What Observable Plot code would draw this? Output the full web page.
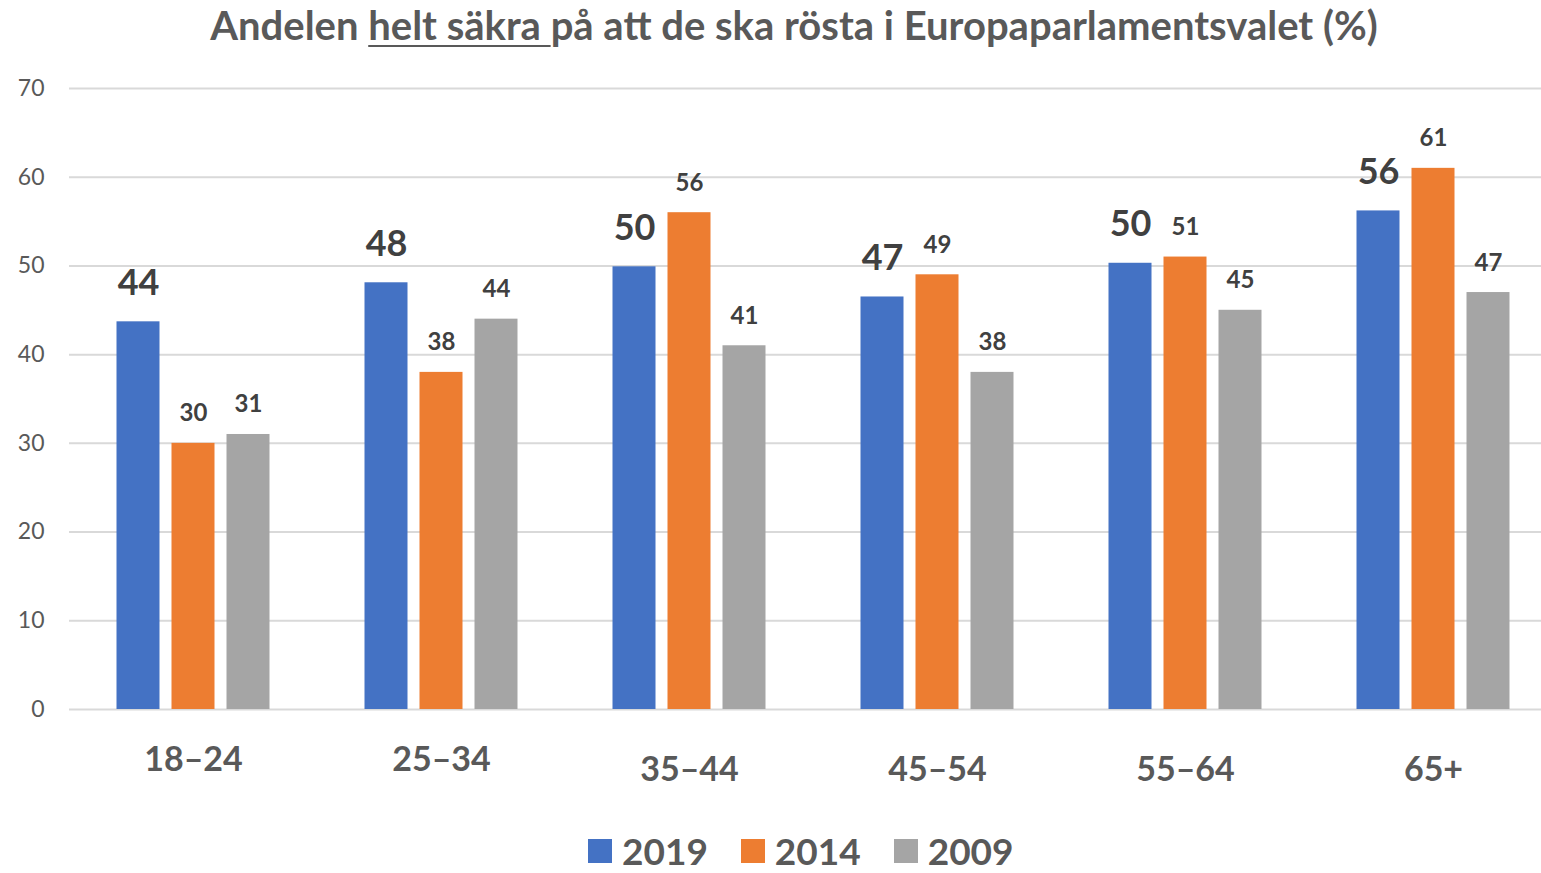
<!DOCTYPE html>
<html>
<head>
<meta charset="utf-8">
<script src="https://cdn.jsdelivr.net/npm/d3@7"></script>
<script src="https://cdn.jsdelivr.net/npm/@observablehq/plot@0.6"></script>
<style>
  html, body { margin: 0; padding: 0; background: #fff; width: 1541px; height: 873px; overflow: hidden; position: relative; font-family: Lato, "Open Sans", sans-serif; }
  #title { position: absolute; top: 0px; left: 794px; transform: translateX(-50%); white-space: nowrap; font-size: 40px; line-height: 50px; font-weight: 700; color: #595959; }
  #title u { text-decoration-thickness: 2px; text-underline-offset: 5px; }
  #chart { position: absolute; top: 55px; left: 0; }
  #chart svg { max-width: none !important; }
  #legend { position: absolute; top: 828px; left: 588px; display: flex; align-items: center; gap: 33px; }
  .item { display: flex; align-items: center; gap: 10px; font-size: 37px; font-weight: 700; color: #595959; }
  .sw { width: 24px; height: 24px; display: inline-block; }
</style>
</head>
<body>
<div id="title"></div>
<div id="chart"></div>
<div id="legend"></div>
<script>
const titleParts = ["Andelen ", "helt säkra ", "på att de ska rösta i Europaparlamentsvalet (%)"];
const groups = ["18–24", "25–34", "35–44", "45–54", "55–64", "65+"];
const series = ["2019", "2014", "2009"];
const values2019 = [43.7, 48.1, 49.9, 46.5, 50.3, 56.2];
const values2014 = [30, 38, 56, 49, 51, 61];
const values2009 = [31, 44, 41, 38, 45, 47];
const colors = ["#4472C4", "#ED7D31", "#A5A5A5"];
const yTicks = [0, 10, 20, 30, 40, 50, 60, 70];

const seriesValues = {"2019": values2019, "2014": values2014, "2009": values2009};
const rows = [];
groups.forEach((g, i) => series.forEach(s => rows.push({group: g, series: s, value: seriesValues[s][i]})));

// Title
const t = document.getElementById("title");
t.append(titleParts[0]);
const u = document.createElement("u"); u.textContent = titleParts[1]; t.append(u);
t.append(titleParts[2]);

const plot = Plot.plot({
  width: 1558,
  height: 745,
  marginLeft: 68.5,
  marginRight: 0,
  marginTop: 33,
  marginBottom: 91,
  style: {fontFamily: "Lato, 'Open Sans', sans-serif", color: "#595959", background: "transparent", maxWidth: "none"},
  fx: {domain: groups, padding: 0, axis: null},
  x: {domain: series, paddingInner: 0.218, paddingOuter: 0.8635, axis: null},
  y: {domain: [0, 70], axis: null},
  color: {domain: series, range: colors},
  marks: [
    Plot.gridY(yTicks, {stroke: "#d9d9d9", strokeOpacity: 1, strokeWidth: 2}),
    Plot.axisY(yTicks, {label: null, tickSize: 0, tickPadding: 25, fontSize: 23, fill: "#595959"}),
    Plot.barY(rows, {fx: "group", x: "series", y: "value", fill: "series"}),
    Plot.text(rows.filter(d => d.series === "2019"), {
      fx: "group", x: "series", y: "value", text: d => Math.round(d.value),
      lineAnchor: "bottom", dy: -27, fontSize: 36, fontWeight: 700, fill: "#404040"
    }),
    Plot.text(rows.filter(d => d.series !== "2019"), {
      fx: "group", x: "series", y: "value", text: d => Math.round(d.value),
      lineAnchor: "bottom", dy: -22, fontSize: 24, fontWeight: 700, fill: "#404040"
    }),
    Plot.text(groups.slice(0, 2), {
      fx: d => d, text: d => d, frameAnchor: "bottom", lineAnchor: "bottom",
      dy: 61, fontSize: 34, fontWeight: 700, fill: "#595959"
    }),
    Plot.text(groups.slice(2), {
      fx: d => d, text: d => d, frameAnchor: "bottom", lineAnchor: "bottom",
      dy: 71, fontSize: 34, fontWeight: 700, fill: "#595959"
    })
  ]
});
document.getElementById("chart").append(plot);

// Legend
const legend = document.getElementById("legend");
series.forEach((s, i) => {
  const item = document.createElement("div"); item.className = "item";
  const sw = document.createElement("span"); sw.className = "sw"; sw.style.background = colors[i];
  item.append(sw); item.append(s);
  legend.append(item);
});
</script>
</body>
</html>
